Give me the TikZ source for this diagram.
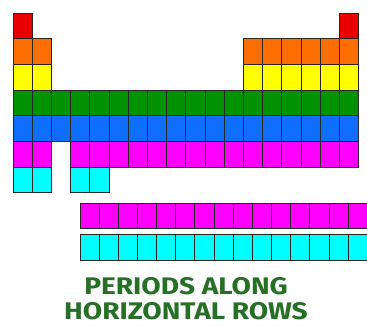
\documentclass[tikz,border=0pt]{standalone}
\usepackage{fontspec}
\newfontfamily\labelfont{Fira Sans}
\definecolor{cred}{RGB}{232,0,0}
\definecolor{corange}{RGB}{255,110,0}
\definecolor{cyellow}{RGB}{255,255,0}
\definecolor{cgreen}{RGB}{0,146,0}
\definecolor{cblue}{RGB}{16,110,255}
\definecolor{cmagenta}{RGB}{255,0,255}
\definecolor{ccyan}{RGB}{0,255,255}
\definecolor{ctext}{RGB}{38,112,38}
\begin{document}
\begin{tikzpicture}[x=1pt,y=-1pt,
  cell/.style={draw=black!85,line width=0.9pt},
  caption/.style={text=ctext,font=\labelfont\bfseries\fontsize{24}{26}\selectfont,
    inner sep=0pt,anchor=base,xscale=1.17,text depth=0pt}]
\useasboundingbox (0,0) rectangle (367,325);
\fill[white] (0,0) rectangle (367,325);
\def\cw{19.2}\def\ch{25.7}\def\xo{13}\def\yo{13}
% cellrow: #1 colour, #2 row index (1..7), #3 list of columns
\newcommand\cellrow[3]{%
  \foreach \c in {#3}{%
    \fill[#1] ({\xo+(\c-1)*\cw},{\yo+(#2-1)*\ch}) rectangle ++(\cw,\ch);
    \draw[cell] ({\xo+(\c-1)*\cw},{\yo+(#2-1)*\ch}) rectangle ++(\cw,\ch);
  }}
\cellrow{cred}{1}{1,18}
\cellrow{corange}{2}{1,2,13,14,15,16,17,18}
\cellrow{cyellow}{3}{1,2,13,14,15,16,17,18}
\cellrow{cgreen}{4}{1,...,18}
\cellrow{cblue}{5}{1,...,18}
\cellrow{cmagenta}{6}{1,2,4,5,...,18}
\cellrow{ccyan}{7}{1,2,4,5}
% lanthanide / actinide rows
\foreach \c in {0,...,14}{
  \fill[cmagenta] ({80+\c*19.15},203) rectangle ++(19.15,25.5);
  \draw[cell] ({80+\c*19.15},203) rectangle ++(19.15,25.5);
  \fill[ccyan] ({80+\c*19.15},234.5) rectangle ++(19.15,25.5);
  \draw[cell] ({80+\c*19.15},234.5) rectangle ++(19.15,25.5);
}
\node[caption] (title1) at (186,294.5) {PERIODS ALONG};
\node[caption] (title2) at (186,319) {HORIZONTAL ROWS};
\end{tikzpicture}
\end{document}
